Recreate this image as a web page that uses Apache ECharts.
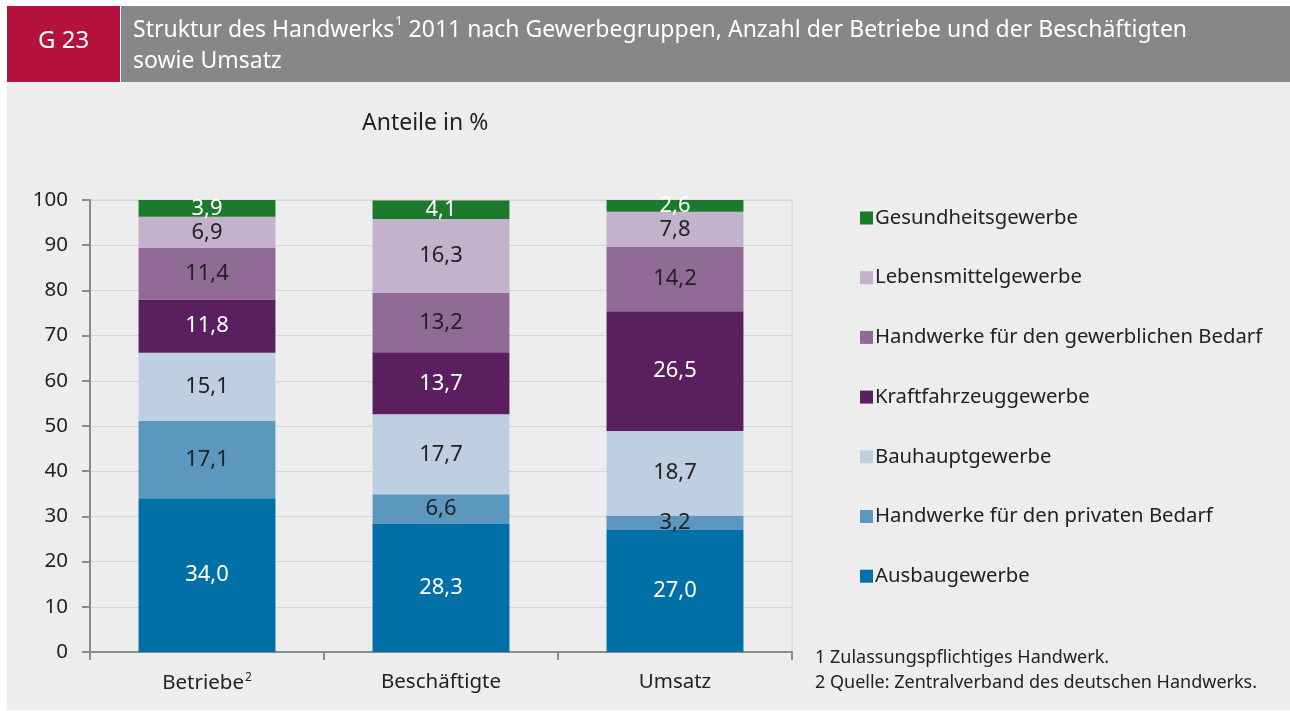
<!DOCTYPE html>
<html>
<head>
<meta charset="utf-8" />
<title>Struktur des Handwerks 2011</title>
<script src="https://cdn.jsdelivr.net/npm/echarts@6/dist/echarts.min.js"></script>
<style>
  html, body { margin: 0; padding: 0; background: #fff; }
  #main { width: 1290px; height: 711px; }
</style>
</head>
<body>
<div id="main"></div>
<script type="text/javascript">
// Kategorien und Anteile in %
var categories = ['Betriebe', 'Beschäftigte', 'Umsatz'];
var ausbau       = [34.0, 28.3, 27.0];
var privat       = [17.1, 6.6, 3.2];
var bauhaupt     = [15.1, 17.7, 18.7];
var kfz          = [11.8, 13.7, 26.5];
var gewerblich   = [11.4, 13.2, 14.2];
var lebensmittel = [6.9, 16.3, 7.8];
var gesundheit   = [3.9, 4.1, 2.6];
var yTicks = [0, 100, 10];   // min, max, interval

var FONT = '"Noto Sans", "Open Sans", sans-serif';

function makeSeries(name, data, color, labelColor) {
    return {
        name: name,
        type: 'bar',
        stack: 'total',
        barWidth: '58.5%',
        data: data,
        itemStyle: { color: color },
        label: {
            show: true,
            position: 'inside',
            color: labelColor,
            fontSize: 22,
            fontFamily: FONT,
            formatter: function (p) { return p.value.toFixed(1).replace('.', ','); }
        },
        emphasis: { disabled: true }
    };
}

var myChart = echarts.init(document.getElementById('main'));
var option = {
    animation: false,
    textStyle: { fontFamily: FONT },
    graphic: [
        // Hintergrund
        { type: 'rect', silent: true, z: -10, shape: { x: 7, y: 82, width: 1283, height: 628 }, style: { fill: '#ecedec' } },
        // Kopfzeile
        { type: 'rect', silent: true, z: -10, shape: { x: 7, y: 6, width: 113, height: 76 }, style: { fill: '#b5123d' } },
        { type: 'rect', silent: true, z: -10, shape: { x: 121, y: 6, width: 1169, height: 76 }, style: { fill: '#878787' } },
        { type: 'text', silent: true, left: 38, top: 29,
          style: { text: 'G 23', fill: '#fff', font: '24px ' + FONT } },
        { type: 'text', silent: true, left: 133, top: 15,
          style: {
              text: '{t|Struktur des Handwerks}{s|1}{t| 2011 nach Gewerbegruppen, Anzahl der Betriebe und der Beschäftigten}\n{t|sowie Umsatz}',
              fill: '#fff',
              rich: {
                  t: { fontSize: 23, fontFamily: FONT, color: '#fff', lineHeight: 31 },
                  s: { fontSize: 13, fontFamily: FONT, color: '#fff', verticalAlign: 'top', lineHeight: 31, padding: [0, 0, 10, 1] }
              }
          } },
        // Fußnoten
        { type: 'text', silent: true, left: 815, top: 645,
          style: { text: '1 Zulassungspflichtiges Handwerk.\n2 Quelle: Zentralverband des deutschen Handwerks.',
                   fill: '#222', font: '18px ' + FONT, lineHeight: 25 } }
    ],
    title: {
        text: 'Anteile in %',
        left: 357,
        top: 107,
        textStyle: { fontSize: 23, fontWeight: 'normal', color: '#222', fontFamily: FONT }
    },
    legend: {
        orient: 'vertical',
        left: 855,
        top: 202,
        itemWidth: 13,
        itemHeight: 13,
        itemGap: 37.7,
        icon: 'rect',
        selectedMode: false,
        textStyle: { fontSize: 20.3, color: '#222', fontFamily: FONT, lineHeight: 22, padding: [0, 0, 0, -3] },
        data: ['Gesundheitsgewerbe', 'Lebensmittelgewerbe', 'Handwerke für den gewerblichen Bedarf',
               'Kraftfahrzeuggewerbe', 'Bauhauptgewerbe', 'Handwerke für den privaten Bedarf', 'Ausbaugewerbe']
    },
    grid: {
        left: 90, top: 200, width: 702, height: 452,
        show: true, borderColor: '#d6d6d6', borderWidth: 1, backgroundColor: 'transparent'
    },
    xAxis: {
        type: 'category',
        data: categories,
        axisLine: { lineStyle: { color: '#8a8a8a', width: 2 } },
        axisTick: { show: true, length: 8, lineStyle: { color: '#8a8a8a', width: 2 } },
        axisLabel: {
            fontSize: 20.5, color: '#222', margin: 20, fontFamily: FONT,
            formatter: function (v) { return v === 'Betriebe' ? '{t|Betriebe}{s|2}' : '{t|' + v + '}'; },
            rich: {
                t: { fontSize: 20.5, color: '#222', fontFamily: FONT },
                s: { fontSize: 12, color: '#222', fontFamily: FONT, verticalAlign: 'top', padding: [0, 0, 10, 1] }
            }
        }
    },
    yAxis: {
        type: 'value',
        min: yTicks[0], max: yTicks[1], interval: yTicks[2],
        axisLine: { show: true, lineStyle: { color: '#8a8a8a', width: 2 } },
        axisTick: { show: true, length: 8, lineStyle: { color: '#8a8a8a', width: 2 } },
        axisLabel: { fontSize: 20.5, color: '#222', margin: 22, fontFamily: FONT },
        splitLine: { lineStyle: { color: '#d6d6d6', width: 1 } }
    },
    series: [
        makeSeries('Ausbaugewerbe', ausbau, '#0070a6', '#fff'),
        makeSeries('Handwerke für den privaten Bedarf', privat, '#5b97bf', '#222'),
        makeSeries('Bauhauptgewerbe', bauhaupt, '#bdcfe0', '#222'),
        makeSeries('Kraftfahrzeuggewerbe', kfz, '#5a1f5f', '#fff'),
        makeSeries('Handwerke für den gewerblichen Bedarf', gewerblich, '#8f6b95', '#222'),
        makeSeries('Lebensmittelgewerbe', lebensmittel, '#c3b2cc', '#222'),
        makeSeries('Gesundheitsgewerbe', gesundheit, '#1d7a2c', '#fff')
    ]
};
myChart.setOption(option);
</script>
</body>
</html>
